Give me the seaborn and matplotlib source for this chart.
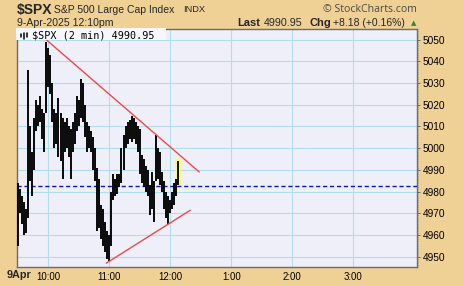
import matplotlib
matplotlib.use("Agg")
import matplotlib.pyplot as plt
from matplotlib.ticker import MultipleLocator, FixedLocator
from matplotlib.lines import Line2D
import seaborn as sns
import pandas as pd

# ---------------- data ----------------
# 2-minute bars from 9:30 (minutes after 9:30)
bar_minutes = list(range(0, 160, 2))
highs = [4984, 4981, 4978, 4975, 4972, 5036, 5010, 4998, 5014, 5022,
         5020, 5024, 5018, 5016, 5049, 5046, 5043, 5030, 5018, 5016,
         5023, 5016, 5014, 5012, 5014, 5010, 5009, 5012, 5016, 5024,
         5022, 5032, 5030, 5020, 5012, 5010, 5008, 5005, 5000, 4991,
         4986, 4974, 4972, 4966, 4962, 4960, 4980, 4988, 4986, 4988,
         4988, 5000, 5006, 5010, 5012, 5013, 5015, 5014, 5012, 5010,
         5009, 4997, 4995, 4992, 4990, 4983, 4989, 4985, 5006, 5000,
         4998, 4989, 4985, 4980, 4978, 4976, 4980, 4984, 4986, 4994]
lows = [4955, 4970, 4965, 4960, 4961, 4968, 4985, 4978, 4990, 5008,
        5010, 5012, 5004, 4998, 5016, 5028, 5025, 5012, 5000, 5002,
        4996, 4994, 4986, 4998, 5000, 4996, 4986, 4998, 5002, 5008,
        5010, 5014, 5012, 5005, 4998, 5000, 4998, 4990, 4985, 4962,
        4963, 4958, 4955, 4952, 4949, 4948, 4955, 4976, 4978, 4979,
        4982, 4984, 4990, 5000, 5002, 5004, 5003, 5004, 5002, 4998,
        4988, 4984, 4982, 4980, 4978, 4969, 4972, 4966, 4985, 4986,
        4983, 4980, 4972, 4968, 4965, 4970, 4972, 4974, 4978, 4983]
prev_close = 4982.77
last_price = 4990.95
upper_trend_x = [24.4, 178.5]
upper_trend_y = [5051.4, 4989.0]
lower_trend_x = [87.0, 169.7]
lower_trend_y = [4947.0, 4971.4]
time_ticks = [30, 90, 150, 210, 270, 330]
time_labels = ["10:00", "11:00", "12:00", "1:00", "2:00", "3:00"]
price_ticks = [4950, 4960, 4970, 4980, 4990, 5000, 5010, 5020, 5030, 5040, 5050]

# ---------------- style ----------------
sns.set_theme(style="white")
plt.rcParams["font.family"] = ["Liberation Sans", "DejaVu Sans"]

FIG_BG = "#EFD196"
PLOT_BG = "#EFEFF9"
GRID = "#B2DEEA"

W, H = 463, 286
fig = plt.figure(figsize=(W / 100, H / 100), dpi=100, facecolor=FIG_BG)
ax = fig.add_axes([17.3 / W, (H - 267.3) / H, 400 / W, (267.3 - 29) / H])
ax.set_facecolor(PLOT_BG)

# bars as vertical high-low segments
rows = []
for i, (m, hi, lo) in enumerate(zip(bar_minutes, highs, lows)):
    rows.append({"bar": i, "minute": m, "price": lo})
    rows.append({"bar": i, "minute": m, "price": hi})
df = pd.DataFrame(rows)

# yellow highlight behind the last bar
last = df[df["bar"] == len(highs) - 1]
sns.lineplot(data=last, x="minute", y="price", units="bar", estimator=None,
             color="#FFFF55", linewidth=4.0, ax=ax, sort=False, zorder=3)

sns.lineplot(data=df, x="minute", y="price", units="bar", estimator=None,
             color="black", linewidth=1.35, ax=ax, sort=False, zorder=4,
             solid_capstyle="butt")

# previous close dashed line
ax.axhline(prev_close, color="#1010CC", linewidth=1.0, linestyle=(0, (3, 2)), zorder=3)

# trend lines
sns.lineplot(x=upper_trend_x, y=upper_trend_y, color="#F04848", linewidth=1.0, ax=ax, zorder=5)
sns.lineplot(x=lower_trend_x, y=lower_trend_y, color="#F04848", linewidth=1.0, ax=ax, zorder=5)

ax.set_xlim(-0.5, 393)
ax.set_ylim(4945.1, 5054.9)

ax.xaxis.set_major_locator(FixedLocator(time_ticks))
ax.set_xticklabels(time_labels)
ax.yaxis.set_major_locator(FixedLocator(price_ticks))
ax.yaxis.set_minor_locator(MultipleLocator(1))
ax.yaxis.tick_right()
ax.set_yticklabels([str(p) for p in price_ticks])
ax.set_xlabel("")
ax.set_ylabel("")

ax.grid(True, which="major", color=GRID, linewidth=0.8)
ax.set_axisbelow(True)
ax.tick_params(axis="x", length=0, pad=3.2, labelsize=6.9, colors="black")
ax.tick_params(axis="y", which="major", direction="out", length=2.5, width=0.6,
               color="#555555", pad=1.2, labelsize=7.3, labelcolor="black",
               left=False, right=True)
ax.tick_params(axis="y", which="minor", direction="out", length=1.0, width=0.5,
               color="#777777", left=False, right=True)
for s in ax.spines.values():
    s.set_color("#6A6A78")
    s.set_linewidth(1.0)

# legend box inside the plot
ax.text(0.0, 1.0, " " * 24, transform=ax.transAxes, ha="left", va="top",
        fontsize=7.4, family="DejaVu Sans Mono",
        bbox=dict(facecolor="#F8F8FC", edgecolor="none", pad=1.0), zorder=6)
ax.text((32.5 - 17.3) / 400, 1 - 6.5 / 238.3, "$SPX (2 min) 4990.95",
        transform=ax.transAxes, ha="left", va="center", fontsize=7.3,
        family="DejaVu Sans Mono", color="black", zorder=7)
# small OHLC icon
for dx, y0, y1 in [(0.0, 0.25, 0.75), (3.0, 0.0, 0.9), (6.0, 0.2, 1.0)]:
    x = (21.0 + dx - 17.3) / 400
    ax.add_line(Line2D([x, x], [1 - (38.5 - 29 - y0 * 6) / 238.3, 1 - (38.5 - 29 - y1 * 6) / 238.3],
                       transform=ax.transAxes, color="black", linewidth=1.1, zorder=8))

# ---------------- header texts ----------------
def ftext(x, y, s, **kw):
    fig.text(x / W, 1 - y / H, s, **kw)

ftext(16.7, 9.6, "$SPX", fontsize=10, fontweight="bold", ha="left", va="center")
ftext(54.3, 9.8, "S&P 500 Large Cap Index", fontsize=7.5, ha="left", va="center")
ftext(182.7, 9.8, "INDX", fontsize=6.7, ha="left", va="center")
ftext(416.7, 9.8, "\u00a9 StockCharts.com", fontsize=7.6, ha="right", va="center",
      color="#4A4A4A", family=["Open Sans", "DejaVu Sans"])
ftext(16.7, 23.3, "9-Apr-2025 12:10pm", fontsize=7.6, ha="left", va="center")
ftext(237.7, 23.0, "Last", fontsize=8.0, fontweight="bold", ha="left", va="center")
ftext(264.3, 23.3, "4990.95", fontsize=7.7, ha="left", va="center")
ftext(310.0, 23.0, "Chg", fontsize=8.0, fontweight="bold", ha="left", va="center")
ftext(333.3, 23.3, "+8.18 (+0.16%)", fontsize=7.5, ha="left", va="center")
ftext(413.3, 23.0, "\u25b2", fontsize=5.0, ha="center", va="center",
      color="#2E8B2E", family=["DejaVu Sans"])

# bottom date label
ftext(19.2, 275.5, "9Apr", fontsize=7.8, fontweight="bold", ha="center", va="center")

fig.savefig("out.png", dpi=100, facecolor=FIG_BG)
